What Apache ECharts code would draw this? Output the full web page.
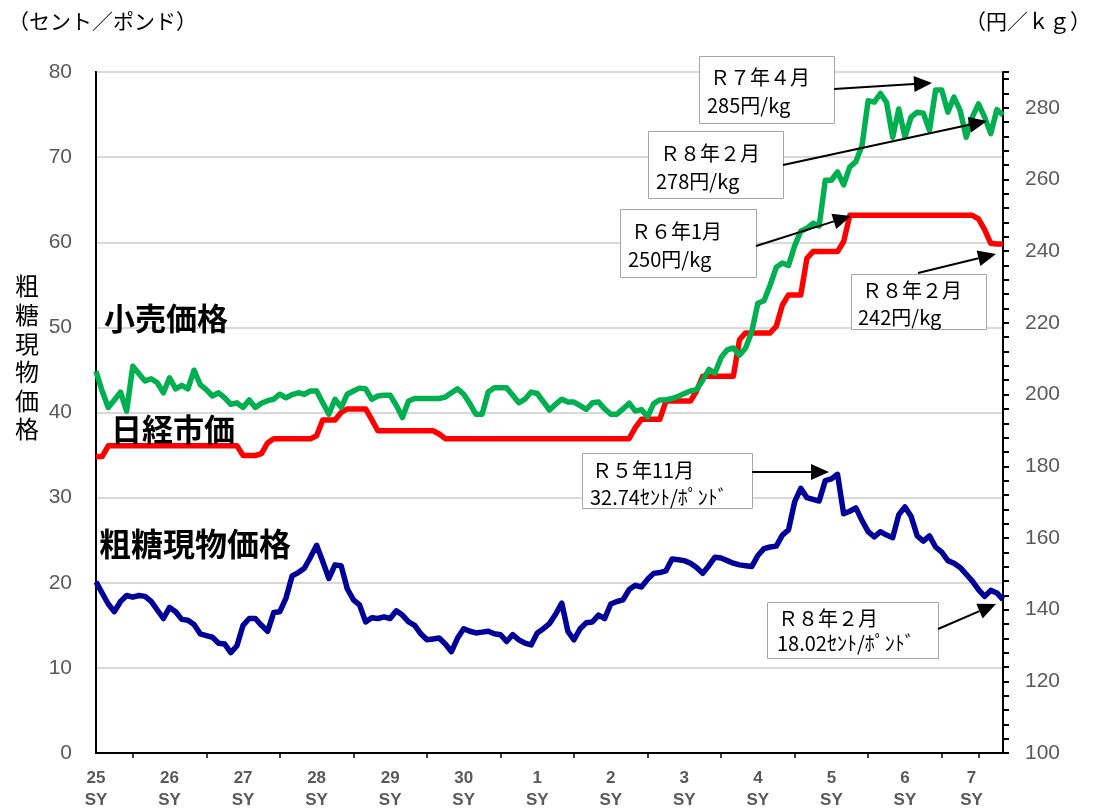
<!DOCTYPE html>
<html>
<head>
<meta charset="utf-8">
<title>砂糖価格の推移</title>
<script src="https://cdn.jsdelivr.net/npm/echarts@6/dist/echarts.min.js"></script>
<style>
  html, body { margin: 0; padding: 0; background: #fff; }
  #main { width: 1093px; height: 811px; }
</style>
</head>
<body>
<div id="main"></div>
<script>
  // 砂糖年度(SY)は10月始まり、月次データ
  var yearLabels = ['25', '26', '27', '28', '29', '30', '1', '2', '3', '4', '5', '6', '7'];
  var monthLabels = ['10', '11', '12', '1', '2', '3', '4', '5', '6', '7', '8', '9'];

  // 粗糖現物価格（セント/ポンド）
  var rawSugar = [
    20.1, 18.8, 17.5, 16.6, 17.8, 18.5, 18.3, 18.5, 18.4, 17.8,
    16.8, 15.8, 17.1, 16.6, 15.7, 15.6, 15.1, 14.0, 13.8, 13.6,
    12.9, 12.8, 11.8, 12.6, 15.0, 15.8, 15.8, 15.0, 14.3, 16.5,
    16.6, 18.2, 20.8, 21.2, 21.7, 23.0, 24.4, 22.5, 20.5, 22.1,
    22.0, 19.3, 18.0, 17.4, 15.4, 15.9, 15.8, 16.0, 15.8, 16.7,
    16.2, 15.4, 15.0, 14.0, 13.3, 13.4, 13.5, 12.8, 11.9, 13.5,
    14.6, 14.3, 14.1, 14.2, 14.3, 14.0, 13.9, 13.1, 13.9, 13.3,
    12.9, 12.7, 14.1, 14.6, 15.2, 16.3, 17.6, 14.3, 13.3, 14.6,
    15.3, 15.4, 16.2, 15.8, 17.5, 17.8, 18.0, 19.2, 19.7, 19.5,
    20.4, 21.1, 21.2, 21.4, 22.8, 22.7, 22.6, 22.3, 21.8, 21.1,
    22.0, 23.0, 22.9, 22.6, 22.3, 22.1, 22.0, 21.9, 23.2, 24.0,
    24.2, 24.3, 25.6, 26.2, 29.5, 31.1, 30.0, 29.8, 29.6, 32.0,
    32.2, 32.74, 28.1, 28.4, 28.8, 27.3, 26.0, 25.4, 26.0, 25.6,
    25.3, 28.0, 28.9, 27.8, 25.5, 24.9, 25.5, 24.2, 23.6, 22.6,
    22.3, 21.8, 21.0, 20.2, 19.2, 18.4, 19.1, 18.8, 18.02
  ];

  // 日経市価（円/kg）
  var nikkei = [
    182.7, 182.7, 185.7, 185.7, 185.7, 185.7, 185.7, 185.7, 185.7, 185.7,
    185.7, 185.7, 185.7, 185.7, 185.7, 185.7, 185.7, 185.7, 185.7, 185.7,
    185.7, 185.7, 185.7, 185.7, 183.0, 183.0, 183.0, 183.5, 186.5, 187.7,
    187.7, 187.7, 187.7, 187.7, 187.7, 187.7, 188.5, 192.9, 192.9, 192.9,
    195.0, 196.0, 196.0, 196.0, 196.0, 193.0, 189.9, 189.9, 189.9, 189.9,
    189.9, 189.9, 189.9, 189.9, 189.9, 189.9, 189.0, 187.7, 187.7, 187.7,
    187.7, 187.7, 187.7, 187.7, 187.7, 187.7, 187.7, 187.7, 187.7, 187.7,
    187.7, 187.7, 187.7, 187.7, 187.7, 187.7, 187.7, 187.7, 187.7, 187.7,
    187.7, 187.7, 187.7, 187.7, 187.7, 187.7, 187.7, 187.7, 190.8, 193.1,
    193.1, 193.1, 193.1, 198.2, 198.2, 198.2, 198.2, 198.2, 201.0, 205.1,
    205.1, 205.1, 205.1, 205.1, 205.1, 215.3, 217.2, 217.2, 217.2, 217.2,
    217.2, 219.0, 225.0, 227.8, 227.8, 227.8, 238.0, 239.9, 239.9, 239.9,
    239.9, 239.9, 242.7, 250, 250, 250, 250, 250, 250, 250,
    250, 250, 250, 250, 250, 250, 250, 250, 250, 250,
    250, 250, 250, 250, 249.0, 246.0, 242.2, 242, 242
  ];

  // 小売価格（円/kg）
  var retail = [
    206.5, 201.0, 196.4, 198.5, 200.7, 195.4, 207.9, 205.8, 203.8, 204.4,
    203.3, 200.5, 204.7, 201.6, 202.6, 201.6, 206.8, 202.8, 201.4, 199.6,
    200.5, 199.1, 197.3, 197.7, 196.4, 198.5, 196.4, 197.6, 198.3, 198.7,
    200.1, 199.1, 200.0, 200.5, 200.1, 201.0, 201.0, 197.7, 194.5, 198.7,
    196.4, 200.1, 201.0, 201.8, 201.6, 198.7, 199.6, 199.8, 199.8, 197.0,
    193.6, 198.2, 198.9, 198.9, 198.9, 198.9, 198.9, 199.3, 200.5, 201.6,
    200.1, 197.5, 194.5, 194.5, 200.7, 201.9, 201.9, 201.9, 199.8, 197.7,
    198.7, 200.7, 200.3, 198.0, 195.7, 197.3, 198.7, 197.9, 197.9, 196.9,
    195.9, 197.7, 197.9, 196.0, 194.5, 194.5, 196.0, 197.6, 195.4, 195.8,
    193.8, 197.5, 198.5, 198.5, 198.9, 199.5, 200.3, 201.0, 201.4, 204.0,
    207.0, 206.0, 210.3, 212.5, 213.0, 211.0, 213.0, 217.5, 225.5, 226.2,
    230.5, 235.5, 236.7, 236.0, 241.5, 245.6, 246.4, 247.8, 247.0, 259.8,
    259.8, 262.1, 258.5, 263.5, 265.0, 269.5, 282.0, 281.6, 284.0, 281.5,
    271.8, 279.7, 271.8, 277.4, 278.8, 278.5, 273.7, 285.0, 285.0, 278.8,
    283.0, 279.3, 271.8, 277.4, 281.1, 277.4, 272.8, 279.5, 278
  ];

  var categories = [];
  for (var i = 0; i < rawSugar.length; i++) {
    categories.push(yearLabels[Math.floor(i / 12)] + 'SY-' + monthLabels[i % 12]);
  }

  var jp = '"Noto Sans CJK JP", sans-serif';
  var num = '"Liberation Sans", Arial, sans-serif';

  // 吹き出し（枠と2行のテキスト）
  var notes = [
    { x: 699, y: 56, w: 135, h: 67, l1: 'Ｒ７年４月', l2: '285円/kg', t1: [710, 77], t2: [707, 105] },
    { x: 648, y: 131, w: 135, h: 67, l1: 'Ｒ８年２月', l2: '278円/kg', t1: [660, 153], t2: [656, 181] },
    { x: 620, y: 209, w: 136, h: 68, l1: 'Ｒ６年1月', l2: '250円/kg', t1: [631, 231], t2: [628, 259] },
    { x: 851, y: 274, w: 135, h: 55, l1: 'Ｒ８年２月', l2: '242円/kg', t1: [862, 290], t2: [858, 317] },
    { x: 582, y: 453, w: 170, h: 55, l1: 'Ｒ５年11月', l2: '32.74ｾﾝﾄ/ﾎﾟﾝﾄﾞ', t1: [592, 470], t2: [590, 497] },
    { x: 767, y: 602, w: 171, h: 56, l1: 'Ｒ８年２月', l2: '18.02ｾﾝﾄ/ﾎﾟﾝﾄﾞ', t1: [778, 618], t2: [777, 643] }
  ];
  var arrows = [
    [834, 89, 932, 83],
    [783, 165, 987, 121],
    [756, 246, 851, 216],
    [918, 273, 996, 254],
    [752, 472, 829, 472],
    [938, 629, 996, 604]
  ];

  function txt(x, y, s, font, align) {
    return {
      type: 'text', z: 100,
      style: {
        x: x, y: y, text: s, font: font, fill: '#000',
        align: align || 'left', verticalAlign: 'middle',
        textAlign: align || 'left', textVerticalAlign: 'middle'
      }
    };
  }

  var graphics = [];
  notes.forEach(function (n) {
    graphics.push({
      type: 'rect', z: 90,
      shape: { x: n.x + 0.5, y: n.y + 0.5, width: n.w, height: n.h },
      style: { fill: '#fff', stroke: '#a6a6a6', lineWidth: 1 }
    });
    graphics.push(txt(n.t1[0], n.t1[1], n.l1, '20px ' + jp));
    graphics.push(txt(n.t2[0], n.t2[1], n.l2, '20px ' + jp));
  });
  arrows.forEach(function (a) {
    var dx = a[2] - a[0], dy = a[3] - a[1];
    var len = Math.sqrt(dx * dx + dy * dy);
    var ux = dx / len, uy = dy / len;
    var hl = 18, hw = 8;
    var bx = a[2] - ux * hl, by = a[3] - uy * hl;
    graphics.push({
      type: 'line', z: 95,
      shape: { x1: a[0], y1: a[1], x2: bx, y2: by },
      style: { stroke: '#000', lineWidth: 2 }
    });
    graphics.push({
      type: 'polygon', z: 95,
      shape: { points: [[a[2], a[3]], [bx - uy * hw, by + ux * hw], [bx + uy * hw, by - ux * hw]] },
      style: { fill: '#000' }
    });
  });
  // 系列名
  graphics.push(txt(104, 318, '小売価格', 'bold 31px ' + jp));
  graphics.push(txt(111, 429, '日経市価', 'bold 31px ' + jp));
  graphics.push(txt(99, 544, '粗糖現物価格', 'bold 32px ' + jp));
  // 単位・軸名
  graphics.push(txt(8, 21, '（セント／ポンド）', '21px ' + jp));
  graphics.push(txt(1091, 21, '（円／ｋｇ）', '21px ' + jp, 'right'));
  graphics.push({
    type: 'text', z: 100,
    style: {
      x: 27, y: 272, text: '粗\n糖\n現\n物\n価\n格', font: '24px ' + jp, fill: '#000',
      lineHeight: 28.6, align: 'center', textAlign: 'center', verticalAlign: 'top', textVerticalAlign: 'top'
    }
  });

  var chart = echarts.init(document.getElementById('main'));
  chart.setOption({
    animation: false,
    backgroundColor: '#fff',
    grid: { left: 96, right: 90, top: 72, bottom: 56, show: true, borderColor: '#000', borderWidth: 2 },
    xAxis: {
      type: 'category',
      data: categories,
      boundaryGap: false,
      axisLine: { lineStyle: { color: '#000', width: 2 } },
      axisTick: {
        show: true, length: 5, lineStyle: { color: '#000', width: 1.5 },
        interval: function (idx) { return idx % 12 === 6 || idx === 144; }
      },
      axisLabel: {
        interval: function (idx) { return idx % 12 === 0; },
        formatter: function (v, idx) {
          var y = yearLabels[Math.floor(idx / 12)];
          if (idx === 144) return '{s|' + y + '}\n{s|SY}';
          return y + '\nSY';
        },
        color: '#595959', fontWeight: 'bold', fontSize: 17, fontFamily: num,
        lineHeight: 22, margin: 14,
        rich: {
          s: { color: '#595959', fontWeight: 'bold', fontSize: 17, fontFamily: num, lineHeight: 22, padding: [0, 14, 0, 0] }
        }
      },
      splitLine: { show: false }
    },
    yAxis: [
      {
        type: 'value', min: 0, max: 80, interval: 10,
        axisLine: { show: true, lineStyle: { color: '#000', width: 2 } },
        axisTick: { show: false },
        axisLabel: { color: '#595959', fontSize: 21, fontFamily: num, margin: 24 },
        splitLine: { show: true, lineStyle: { color: '#d9d9d9', width: 2 } }
      },
      {
        type: 'value', position: 'right', min: 100, max: 290, interval: 4,
        axisLine: { show: true, lineStyle: { color: '#000', width: 2 } },
        axisTick: { show: true, length: 6, lineStyle: { color: '#000', width: 2 } },
        axisLabel: {
          color: '#595959', fontSize: 21, fontFamily: num, margin: 22,
          formatter: function (v) { return v % 20 === 0 ? String(v) : ''; }
        },
        splitLine: { show: false }
      }
    ],
    series: [
      {
        name: '粗糖現物価格', type: 'line', yAxisIndex: 0, data: rawSugar,
        showSymbol: false, lineStyle: { color: '#000099', width: 5.5, join: 'round' },
        itemStyle: { color: '#000099' }
      },
      {
        name: '日経市価', type: 'line', yAxisIndex: 1, data: nikkei,
        showSymbol: false, lineStyle: { color: '#ff0000', width: 5.5, join: 'round' },
        itemStyle: { color: '#ff0000' }
      },
      {
        name: '小売価格', type: 'line', yAxisIndex: 1, data: retail,
        showSymbol: false, lineStyle: { color: '#00b050', width: 5.5, join: 'round' },
        itemStyle: { color: '#00b050' }
      }
    ],
    graphic: graphics
  });
</script>
</body>
</html>
